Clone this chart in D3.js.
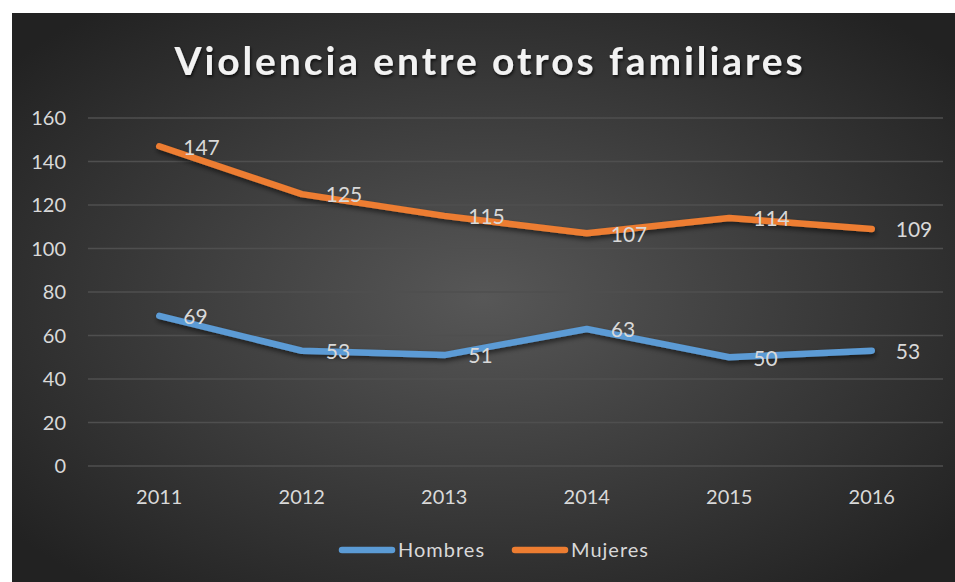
<!DOCTYPE html>
<meta charset="utf-8">
<html>
<head>
<script src="https://d3js.org/d3.v7.min.js"></script>
<style>
  html, body { margin: 0; padding: 0; background: #fff; }
  svg { display: block; }
  text { font-family: Lato, 'Open Sans', sans-serif; }
</style>
</head>
<body>
<svg id="chart" width="955" height="582"></svg>
<script>
var years = ["2011", "2012", "2013", "2014", "2015", "2016"];
var hombres = [69, 53, 51, 63, 50, 53];
var mujeres = [147, 125, 115, 107, 114, 109];
var yTicks = [0, 20, 40, 60, 80, 100, 120, 140, 160];
var seriesNames = ["Hombres", "Mujeres"];
var seriesColors = ["#5b9bd5", "#ed7d31"];

var svg = d3.select("#chart");
var defs = svg.append("defs");

var grad = defs.append("radialGradient").attr("id", "bg")
    .attr("cx", "50%").attr("cy", "50%").attr("r", "65%");
grad.append("stop").attr("offset", "0%").attr("stop-color", "#575757");
grad.append("stop").attr("offset", "100%").attr("stop-color", "#222");

var sh = defs.append("filter").attr("id", "shadow")
    .attr("x", "-10%").attr("y", "-30%").attr("width", "130%").attr("height", "180%");
sh.append("feDropShadow").attr("dx", 1).attr("dy", 3).attr("stdDeviation", 2.5)
    .attr("flood-color", "#000").attr("flood-opacity", 0.55);

var tsh = defs.append("filter").attr("id", "tshadow");
tsh.append("feDropShadow").attr("dx", 1).attr("dy", 2).attr("stdDeviation", 1.5)
    .attr("flood-color", "#000").attr("flood-opacity", 0.7);

svg.append("rect").attr("x", 12).attr("y", 13).attr("width", 943).attr("height", 569)
    .attr("fill", "url(#bg)");

var x = d3.scaleBand().domain(years).range([88, 943]);
var y = d3.scaleLinear().domain([0, 160]).range([466, 118]);

// gridlines
svg.append("g").selectAll("line").data(yTicks).join("line")
    .attr("x1", 88).attr("x2", 943)
    .attr("y1", function (d) { return y(d); }).attr("y2", function (d) { return y(d); })
    .attr("stroke", "#4f4f4f").attr("stroke-width", 1.3);

// y axis labels
svg.append("g").selectAll("text").data(yTicks).join("text")
    .attr("x", 66).attr("y", function (d) { return y(d); })
    .attr("dy", "0.35em").attr("text-anchor", "end")
    .attr("fill", "#d9d9d9").attr("font-size", 20)
    .text(function (d) { return d; });

// x axis labels
svg.append("g").selectAll("text").data(years).join("text")
    .attr("x", function (d) { return x(d) + x.bandwidth() / 2; }).attr("y", 497)
    .attr("dy", "0.35em").attr("text-anchor", "middle")
    .attr("fill", "#d9d9d9").attr("font-size", 20)
    .text(function (d) { return d; });

// title
svg.append("text").attr("x", 490).attr("y", 75)
    .attr("text-anchor", "middle").attr("fill", "#f2f2f2")
    .attr("font-size", 39).attr("font-weight", "bold").attr("letter-spacing", 2.9)
    .attr("filter", "url(#tshadow)")
    .text("Violencia entre otros familiares");

var line = d3.line()
    .x(function (d, i) { return x(years[i]) + x.bandwidth() / 2; })
    .y(function (d) { return y(d); });

[hombres, mujeres].forEach(function (vals, k) {
    svg.append("path").datum(vals)
        .attr("d", line).attr("fill", "none")
        .attr("stroke", seriesColors[k]).attr("stroke-width", 6.5)
        .attr("stroke-linecap", "round").attr("stroke-linejoin", "round")
        .attr("filter", "url(#shadow)");
});

[hombres, mujeres].forEach(function (vals) {
    svg.append("g").selectAll("text").data(vals).join("text")
        .attr("x", function (d, i) { return x(years[i]) + x.bandwidth() / 2 + 24; })
        .attr("y", function (d) { return y(d) + 1; })
        .attr("dy", "0.35em").attr("text-anchor", "start")
        .attr("fill", "#d9d9d9").attr("font-size", 21)
        .text(function (d) { return d; });
});

// legend
var legendX = [339, 512];
seriesNames.forEach(function (name, k) {
    var g = svg.append("g");
    g.append("line").attr("x1", legendX[k] + 3).attr("x2", legendX[k] + 53)
        .attr("y1", 550).attr("y2", 550)
        .attr("stroke", seriesColors[k]).attr("stroke-width", 6.5)
        .attr("stroke-linecap", "round");
    g.append("text").attr("x", legendX[k] + 59).attr("y", 550).attr("dy", "0.35em")
        .attr("fill", "#d9d9d9").attr("font-size", 20).attr("letter-spacing", 1)
        .text(name);
});
</script>
</body>
</html>
